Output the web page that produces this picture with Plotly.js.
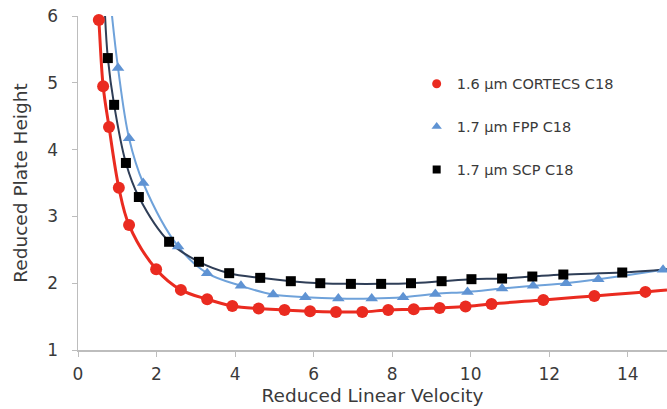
<!DOCTYPE html>
<html>
<head>
<meta charset="utf-8">
<script src="https://cdn.plot.ly/plotly-3.0.1.min.js"></script>
<style>
  html, body { margin: 0; padding: 0; background: #ffffff; }
  #chart { width: 667px; height: 409px; }
</style>
</head>
<body>
<div id="chart"></div>
<script>
// Van Deemter plots: reduced plate height vs. reduced linear velocity

// 1.6 µm CORTECS C18
const velocityCortecs = [0.53, 0.64, 0.79, 1.04, 1.30, 1.99, 2.62, 3.29, 3.93, 4.60, 5.26, 5.91, 6.57, 7.24, 7.90, 8.55, 9.21, 9.87, 10.53, 11.85, 13.15, 14.45];
const heightCortecs   = [5.94, 4.95, 4.34, 3.43, 2.87, 2.21, 1.90, 1.76, 1.66, 1.62, 1.60, 1.58, 1.57, 1.57, 1.60, 1.61, 1.63, 1.65, 1.69, 1.75, 1.81, 1.87];

// 1.7 µm FPP C18
const velocityFpp = [1.02, 1.30, 1.66, 2.55, 3.29, 4.15, 4.97, 5.79, 6.63, 7.48, 8.28, 9.10, 9.92, 10.80, 11.59, 12.43, 13.25, 14.90];
const heightFpp   = [5.22, 4.17, 3.50, 2.55, 2.15, 1.96, 1.83, 1.79, 1.77, 1.77, 1.79, 1.84, 1.87, 1.92, 1.96, 2.00, 2.06, 2.20];

// 1.7 µm SCP C18
const velocityScp = [0.76, 0.92, 1.22, 1.55, 2.32, 3.08, 3.85, 4.64, 5.42, 6.17, 6.95, 7.72, 8.48, 9.26, 10.02, 10.80, 11.57, 12.36, 13.86];
const heightScp   = [5.37, 4.67, 3.80, 3.29, 2.62, 2.32, 2.15, 2.08, 2.03, 2.00, 1.99, 1.99, 2.00, 2.03, 2.06, 2.07, 2.10, 2.13, 2.16];

// Where each fitted curve leaves the plot (top left and right edge)
const fitEndsCortecs = { start: [0.50, 6.15], end: [15.0, 1.90] };
const fitEndsFpp     = { start: [0.84, 6.15], end: [15.0, 2.21] };
const fitEndsScp     = { start: [0.685, 6.05], end: [15.0, 2.21] };

const seriesNames = ['1.6 µm CORTECS C18', '1.7 µm FPP C18', '1.7 µm SCP C18'];

const xTickValues = [0, 2, 4, 6, 8, 10, 12, 14];
const yTickValues = [1, 2, 3, 4, 5, 6];

const FONT = 'DejaVu Sans, Verdana, sans-serif';
const TEXT_COLOR = '#3a3a3a';
const AXIS_COLOR = '#bdbdbd';

function fitCurve(xs, ys, ends, color, width) {
  return {
    x: [ends.start[0]].concat(xs, [ends.end[0]]),
    y: [ends.start[1]].concat(ys, [ends.end[1]]),
    type: 'scatter',
    mode: 'lines',
    line: { color: color, width: width, shape: 'spline', smoothing: 1 },
    hoverinfo: 'skip',
    showlegend: false
  };
}

function points(xs, ys, name, marker) {
  return {
    x: xs, y: ys, name: name,
    type: 'scatter', mode: 'markers',
    marker: marker,
    cliponaxis: false,
    showlegend: false
  };
}

// legend-only entries so the key symbols can be smaller than the plotted markers
function key(name, marker, group) {
  return {
    x: [null], y: [null], name: name,
    type: 'scatter', mode: 'markers',
    marker: marker,
    legendgroup: group,
    showlegend: true
  };
}

const RED = '#ea2b20';
const BLUE = '#5f93d3';
const BLUE_LINE = '#6fa2da';
const DARK_LINE = '#2f3e57';

const traces = [
  fitCurve(velocityFpp, heightFpp, fitEndsFpp, BLUE_LINE, 2),
  fitCurve(velocityScp, heightScp, fitEndsScp, DARK_LINE, 2),
  fitCurve(velocityCortecs, heightCortecs, fitEndsCortecs, RED, 3),
  points(velocityCortecs, heightCortecs, seriesNames[0], { symbol: 'circle', size: 12, color: RED }),
  points(velocityFpp, heightFpp, seriesNames[1], { symbol: 'triangle-up', size: 11, color: BLUE }),
  points(velocityScp, heightScp, seriesNames[2], { symbol: 'square', size: 10, color: '#000000' }),
  key(seriesNames[0], { symbol: 'circle', size: 9, color: RED }, 'a'),
  key(seriesNames[1], { symbol: 'triangle-up', size: 9, color: BLUE }, 'b'),
  key(seriesNames[2], { symbol: 'square', size: 8, color: '#000000' }, 'c')
];

const layout = {
  width: 667,
  height: 409,
  margin: { l: 78, r: 0, t: 16, b: 59, pad: 0 },
  paper_bgcolor: '#ffffff',
  plot_bgcolor: '#ffffff',
  font: { family: FONT, size: 17, color: TEXT_COLOR },
  showlegend: true,
  legend: {
    x: 0.575, y: 0.845, xanchor: 'left', yanchor: 'top',
    bgcolor: 'rgba(0,0,0,0)',
    font: { family: FONT, size: 14.5, color: TEXT_COLOR },
    tracegroupgap: 21,
    itemclick: false
  },
  xaxis: {
    range: [0, 15],
    tickvals: xTickValues,
    ticktext: xTickValues.map(String),
    showgrid: false,
    zeroline: false,
    showline: true,
    linecolor: AXIS_COLOR,
    linewidth: 1.5,
    ticks: 'outside',
    ticklen: 5,
    tickcolor: AXIS_COLOR,
    tickfont: { family: FONT, size: 17, color: TEXT_COLOR },
    ticklabelstandoff: 3,
    title: { text: 'Reduced Linear Velocity', font: { family: FONT, size: 18.5, color: TEXT_COLOR }, standoff: 6 }
  },
  yaxis: {
    range: [1, 6],
    tickvals: yTickValues,
    ticktext: yTickValues.map(String),
    showgrid: false,
    zeroline: false,
    showline: true,
    linecolor: AXIS_COLOR,
    linewidth: 1.5,
    ticks: 'outside',
    ticklen: 5,
    tickcolor: AXIS_COLOR,
    tickfont: { family: FONT, size: 17, color: TEXT_COLOR },
    ticklabelstandoff: 10,
    title: { text: 'Reduced Plate Height', font: { family: FONT, size: 18.5, color: TEXT_COLOR }, standoff: 15 }
  }
};

Plotly.newPlot('chart', traces, layout, { displayModeBar: false, staticPlot: true });
</script>
</body>
</html>
